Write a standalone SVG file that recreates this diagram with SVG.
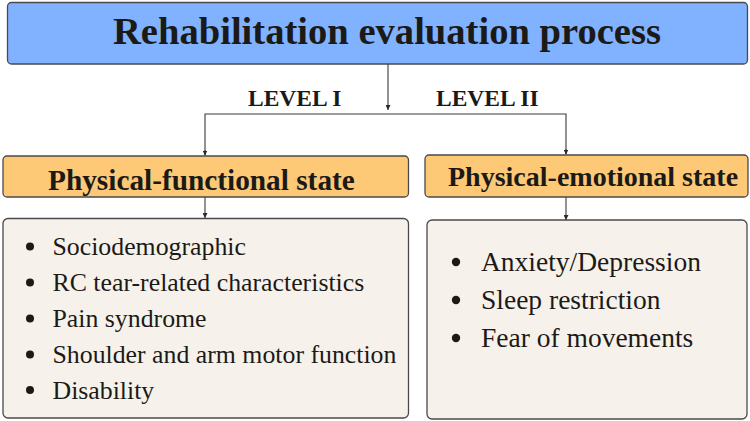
<svg xmlns="http://www.w3.org/2000/svg" width="750" height="421" viewBox="0 0 750 421">
<defs>
<style>
.box{stroke:#4a4a4a;stroke-width:1.3}
.title{fill:#80b2ff}
.cat{fill:#fdc976}
.list{fill:#f6f2eb}
.txt{fill:#1c1a17}
.conn{stroke:#3a3a3a;stroke-width:1.1;fill:none}
.dot{fill:#1c1a17}
</style>
<marker id="ah" viewBox="0 0 10 10" refX="10" refY="5" markerWidth="5" markerHeight="5" orient="auto" markerUnits="userSpaceOnUse">
<path d="M0,0 L10,5 L0,10 z" fill="#2a2a2a"/>
</marker>
</defs>
<rect width="750" height="421" fill="#ffffff"/>

<g id="connectors">
<line class="conn" x1="388" y1="64" x2="388" y2="110" marker-end="url(#ah)"/>
<polyline class="conn" points="205,155 205,114 566,114 566,154"/>
<line class="conn" x1="205" y1="150" x2="205" y2="155.5" marker-end="url(#ah)"/>
<line class="conn" x1="566" y1="149" x2="566" y2="154.5" marker-end="url(#ah)"/>
<line class="conn" x1="205" y1="197" x2="205" y2="218" marker-end="url(#ah)"/>
<line class="conn" x1="566" y1="197" x2="566" y2="220" marker-end="url(#ah)"/>
</g>

<g id="title">
<rect class="box title" x="7.5" y="2.5" width="740" height="61.5" rx="4"/>
<text class="txt" font-family="Liberation Serif" font-weight="bold" x="113" y="43.5" font-size="38.6">Rehabilitation evaluation process</text>
</g>

<g id="level1">
<text class="txt" font-family="Liberation Serif" font-weight="bold" x="248" y="105.7" font-size="23.5">LEVEL I</text>
</g>
<g id="level2">
<text class="txt" font-family="Liberation Serif" font-weight="bold" x="436" y="105.7" font-size="23.5">LEVEL II</text>
</g>

<g id="physical-functional">
<rect class="box cat" x="3" y="156" width="405.5" height="41" rx="4"/>
<text class="txt" font-family="Liberation Serif" font-weight="bold" x="48" y="190" font-size="29.3">Physical-functional state</text>
</g>

<g id="physical-emotional">
<rect class="box cat" x="425" y="155" width="323" height="42" rx="4"/>
<text class="txt" font-family="Liberation Serif" font-weight="bold" x="448" y="186" font-size="28">Physical-emotional state</text>
</g>

<g id="functional-items">
<rect class="box list" x="3" y="218.5" width="405.5" height="199.5" rx="5"/>
<circle class="dot" cx="30" cy="246.5" r="4"/>
<circle class="dot" cx="30" cy="282.5" r="4"/>
<circle class="dot" cx="30" cy="318.5" r="4"/>
<circle class="dot" cx="30" cy="354.5" r="4"/>
<circle class="dot" cx="30" cy="390" r="4"/>
<text class="txt" font-family="Liberation Serif" x="52.5" y="255" font-size="25.8">Sociodemographic</text>
<text class="txt" font-family="Liberation Serif" x="52.5" y="291" font-size="25.8">RC tear-related characteristics</text>
<text class="txt" font-family="Liberation Serif" x="52.5" y="327" font-size="25.8">Pain syndrome</text>
<text class="txt" font-family="Liberation Serif" x="52.5" y="363" font-size="25.8">Shoulder and arm motor function</text>
<text class="txt" font-family="Liberation Serif" x="52.5" y="398.5" font-size="25.8">Disability</text>
</g>

<g id="emotional-items">
<rect class="box list" x="427" y="220" width="320" height="199" rx="5"/>
<circle class="dot" cx="456" cy="262" r="4.2"/>
<circle class="dot" cx="456" cy="300" r="4.2"/>
<circle class="dot" cx="456" cy="338" r="4.2"/>
<text class="txt" font-family="Liberation Serif" x="481" y="271" font-size="27.5">Anxiety/Depression</text>
<text class="txt" font-family="Liberation Serif" x="481" y="309" font-size="27.5">Sleep restriction</text>
<text class="txt" font-family="Liberation Serif" x="481" y="347" font-size="27.5">Fear of movements</text>
</g>
</svg>
